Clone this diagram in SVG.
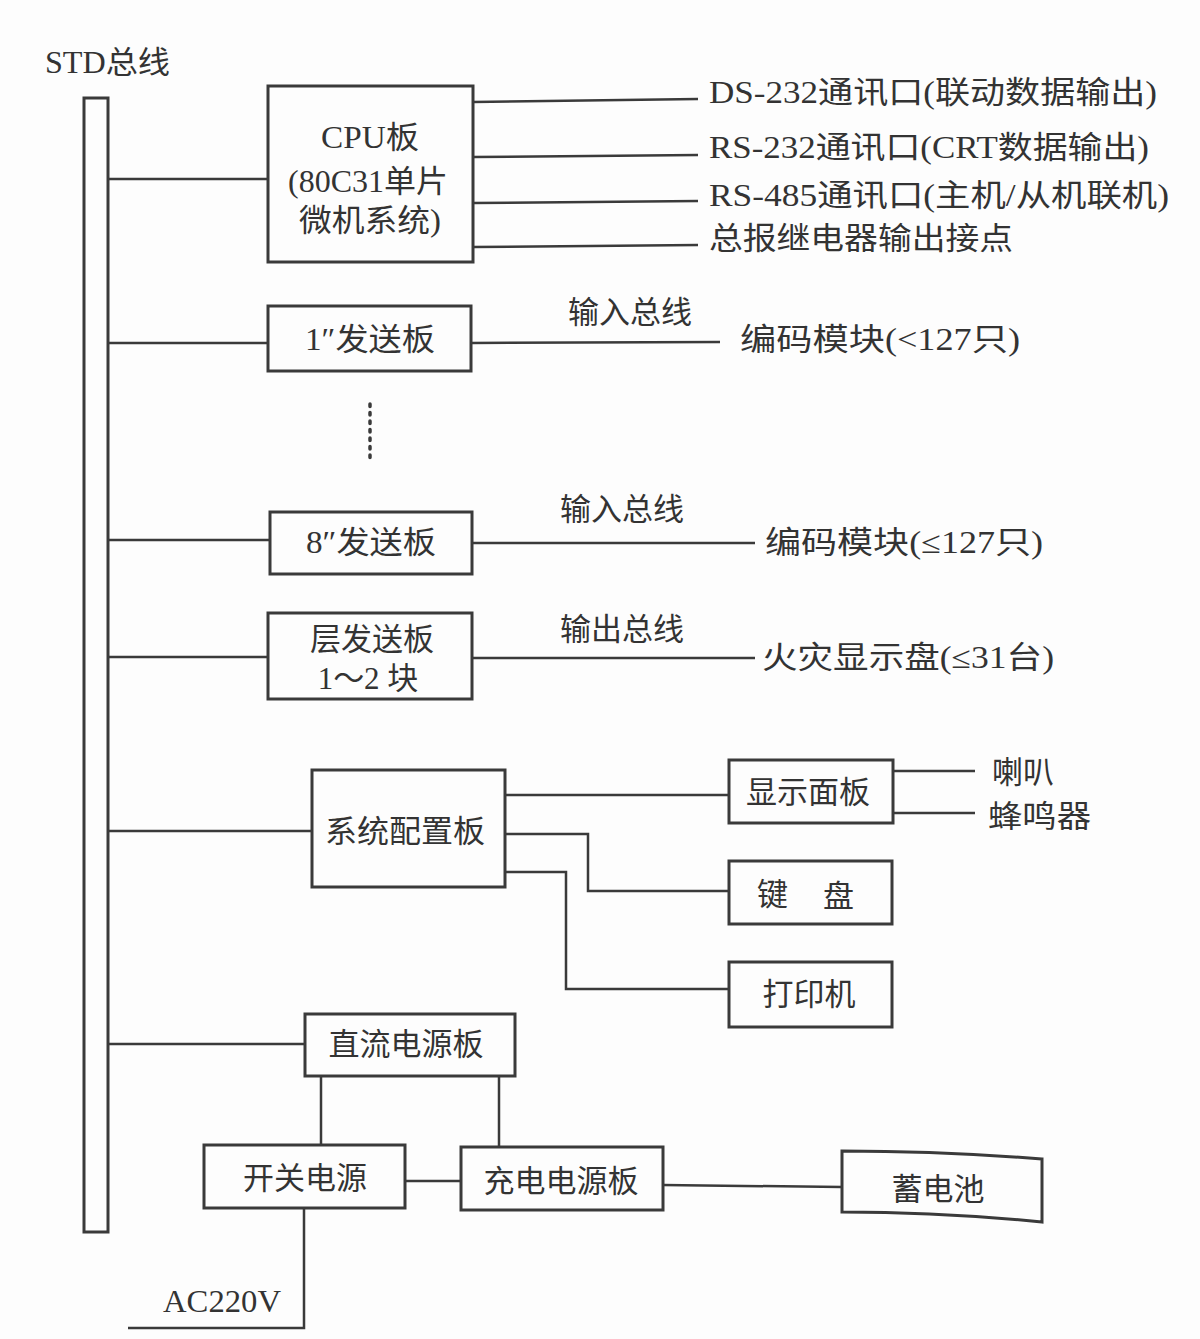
<svg xmlns="http://www.w3.org/2000/svg" width="1200" height="1339" viewBox="0 0 1200 1339">
<style>
.b{fill:none;stroke:#3a3a3a;stroke-width:3}
.l{fill:none;stroke:#3a3a3a;stroke-width:2.5}
text{font-family:"Liberation Serif","Noto Sans CJK SC",serif;fill:#333;font-size:31px}
.c{text-anchor:middle}
</style>
<rect width="1200" height="1339" fill="#fdfdfd"/>
<g id="std_bus">
<text x="45" y="73" textLength="125" lengthAdjust="spacingAndGlyphs">STD总线</text>
<rect class="b" x="84" y="98" width="24" height="1134"/>
</g>
<g id="cpu">
<rect class="b" x="268" y="86" width="205" height="176"/>
<text class="c" x="370" y="148" textLength="98" lengthAdjust="spacingAndGlyphs">CPU板</text>
<text class="c" x="368" y="192" textLength="160" lengthAdjust="spacingAndGlyphs">(80C31单片</text>
<text class="c" x="370" y="231" textLength="142" lengthAdjust="spacingAndGlyphs">微机系统)</text>
</g>
<g id="cpu_outputs">
<text x="709" y="103" textLength="448" lengthAdjust="spacingAndGlyphs">DS-232通讯口(联动数据输出)</text>
<text x="709" y="158" textLength="440" lengthAdjust="spacingAndGlyphs">RS-232通讯口(CRT数据输出)</text>
<text x="709" y="206" textLength="460" lengthAdjust="spacingAndGlyphs">RS-485通讯口(主机/从机联机)</text>
<text x="709" y="249" textLength="304" lengthAdjust="spacingAndGlyphs">总报继电器输出接点</text>
</g>
<g id="send1">
<rect class="b" x="268" y="306" width="203" height="65"/>
<text class="c" x="370" y="350" textLength="130" lengthAdjust="spacingAndGlyphs">1″发送板</text>
<text class="c" x="630" y="323">输入总线</text>
<text x="740" y="350" textLength="280" lengthAdjust="spacingAndGlyphs">编码模块(&lt;127只)</text>
</g>
<g id="dots">
<line x1="370" y1="404" x2="370" y2="462" stroke="#3a3a3a" stroke-width="3.5" stroke-dasharray="2.5,6" stroke-linecap="round"/>
</g>
<g id="send8">
<rect class="b" x="270" y="512" width="202" height="62"/>
<text class="c" x="371" y="553" textLength="130" lengthAdjust="spacingAndGlyphs">8″发送板</text>
<text class="c" x="622" y="520">输入总线</text>
<text x="765" y="553" textLength="278" lengthAdjust="spacingAndGlyphs">编码模块(≤127只)</text>
</g>
<g id="floor_send">
<rect class="b" x="268" y="613" width="204" height="86"/>
<text class="c" x="372" y="650">层发送板</text>
<text class="c" x="368" y="689">1～2 块</text>
<text class="c" x="622" y="640">输出总线</text>
<text x="762" y="668" textLength="292" lengthAdjust="spacingAndGlyphs">火灾显示盘(≤31台)</text>
</g>
<g id="syscfg">
<rect class="b" x="312" y="770" width="193" height="117"/>
<text class="c" x="405" y="842" textLength="160" lengthAdjust="spacingAndGlyphs">系统配置板</text>
</g>
<g id="display">
<rect class="b" x="729" y="760" width="164" height="63"/>
<text class="c" x="808" y="803">显示面板</text>
<text x="992" y="783">喇叭</text>
<text x="988" y="827" textLength="103" lengthAdjust="spacingAndGlyphs">蜂鸣器</text>
</g>
<g id="keyboard">
<rect class="b" x="729" y="861" width="163" height="63"/>
<text x="757" y="905">键</text>
<text x="823" y="907">盘</text>
</g>
<g id="printer">
<rect class="b" x="729" y="962" width="163" height="65"/>
<text class="c" x="809" y="1005">打印机</text>
</g>
<g id="dc_power">
<rect class="b" x="305" y="1014" width="210" height="62"/>
<text class="c" x="406" y="1055">直流电源板</text>
</g>
<g id="switch_power">
<rect class="b" x="204" y="1145" width="201" height="63"/>
<text class="c" x="305" y="1189">开关电源</text>
</g>
<g id="charger">
<rect class="b" x="461" y="1147" width="202" height="63"/>
<text class="c" x="561" y="1192">充电电源板</text>
</g>
<g id="battery">
<path class="b" d="M842 1151 Q940 1151 1042 1159 L1042 1222 Q940 1212 842 1212 Z"/>
<text class="c" x="938" y="1200">蓄电池</text>
</g>
<g id="ac">
<text x="163" y="1312" textLength="118" lengthAdjust="spacingAndGlyphs">AC220V</text>
</g>
<g id="connectors">
<line class="l" x1="108" y1="179" x2="268" y2="179"/>
<line class="l" x1="473" y1="102" x2="698" y2="99"/>
<line class="l" x1="473" y1="157" x2="698" y2="155"/>
<line class="l" x1="473" y1="203" x2="698" y2="201"/>
<line class="l" x1="473" y1="247" x2="698" y2="245"/>
<line class="l" x1="108" y1="343" x2="268" y2="343"/>
<line class="l" x1="471" y1="343" x2="720" y2="342"/>
<line class="l" x1="108" y1="540" x2="270" y2="540"/>
<line class="l" x1="472" y1="543" x2="755" y2="543"/>
<line class="l" x1="108" y1="657" x2="268" y2="657"/>
<line class="l" x1="472" y1="658" x2="755" y2="658"/>
<line class="l" x1="108" y1="831" x2="312" y2="831"/>
<line class="l" x1="505" y1="795" x2="729" y2="795"/>
<polyline class="l" points="505,834 588,834 588,891 729,891"/>
<polyline class="l" points="505,872 566,872 566,989 729,989"/>
<line class="l" x1="893" y1="771" x2="975" y2="771"/>
<line class="l" x1="893" y1="813" x2="975" y2="813"/>
<line class="l" x1="108" y1="1044" x2="305" y2="1044"/>
<line class="l" x1="321" y1="1076" x2="321" y2="1145"/>
<line class="l" x1="499" y1="1076" x2="499" y2="1147"/>
<line class="l" x1="405" y1="1181" x2="461" y2="1181"/>
<line class="l" x1="663" y1="1185" x2="842" y2="1187"/>
<polyline class="l" points="304,1208 304,1328 128,1328"/>
</g>
</svg>
